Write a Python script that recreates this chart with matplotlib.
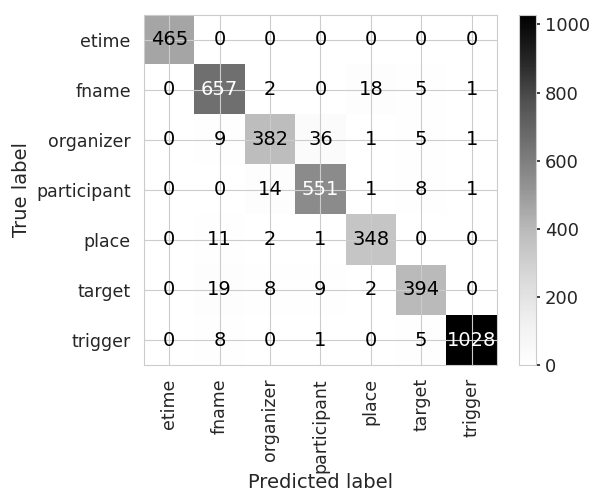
import matplotlib

matplotlib.use("Agg")
import matplotlib.pyplot as plt
import numpy as np
import seaborn as sns

labels = ["etime", "fname", "organizer", "participant", "place", "target", "trigger"]
counts = [
    [465, 0, 0, 0, 0, 0, 0],
    [0, 657, 2, 0, 18, 5, 1],
    [0, 9, 382, 36, 1, 5, 1],
    [0, 0, 14, 551, 1, 8, 1],
    [0, 11, 2, 1, 348, 0, 0],
    [0, 19, 8, 9, 2, 394, 0],
    [0, 8, 0, 1, 0, 5, 1028],
]

sns.set_theme(style="whitegrid")
plt.rcParams["font.family"] = ["DejaVu Sans"]
plt.rcParams["grid.linewidth"] = 0.8
plt.rcParams["axes.linewidth"] = 0.8

cm = np.array(counts)
fig = plt.figure(figsize=(5.89, 4.91), dpi=100)
ax = fig.add_axes([0.2445, 0.2566, 0.599, 0.713])
cax = fig.add_axes([0.881, 0.2566, 0.029, 0.713])

im = ax.imshow(cm, cmap="Greys", interpolation="nearest", vmin=0, vmax=cm.max(), aspect="auto")
thresh = (cm.max() + cm.min()) / 2
for i in range(cm.shape[0]):
    for j in range(cm.shape[1]):
        ax.text(j, i, str(cm[i, j]), ha="center", va="center", fontsize=14,
                color="white" if cm[i, j] > thresh else "black")

cbar = fig.colorbar(im, cax=cax)
cbar.outline.set_edgecolor("#cccccc")
cbar.outline.set_linewidth(0.8)
cbar.ax.tick_params(labelsize=13, length=3, color=".15")

ax.set_xticks(range(len(labels)))
ax.set_yticks(range(len(labels)))
ax.set_xticklabels(labels, rotation=90, fontsize=12.5)
ax.set_yticklabels(labels, fontsize=12.5)
ax.set_xlabel("Predicted label", fontsize=14, labelpad=0)
ax.set_ylabel("True label", fontsize=14)
ax.set_xlim(-0.5, len(labels) - 0.5)
ax.set_ylim(len(labels) - 0.5, -0.5)

fig.savefig("out.png", dpi=100)
